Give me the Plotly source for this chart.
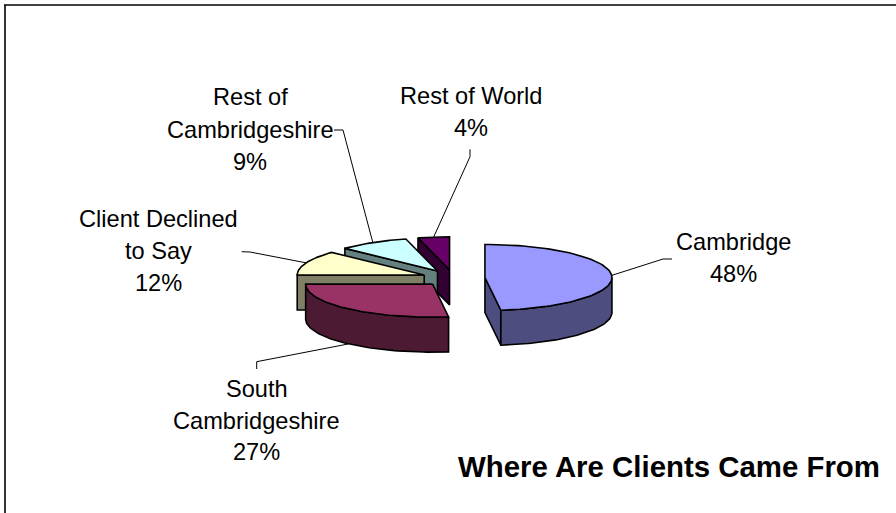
import numpy as np
import plotly.graph_objects as go

categories = ["Cambridge", "South Cambridgeshire", "Client Declined to Say", "Rest of Cambridgeshire", "Rest of World"]
values = [48, 27, 12, 9, 4]
top_colors = ["#9999FF", "#993366", "#FFFFCC", "#CCFFFF", "#660066"]
wall_colors = ["#4D4D80", "#4D1A33", "#808066", "#668080", "#330033"]
label_lines = [["Cambridge", "48%"], ["South", "Cambridgeshire", "27%"], ["Client Declined", "to Say", "12%"],
               ["Rest of", "Cambridgeshire", "9%"], ["Rest of World", "4%"]]
title = "Where Are Clients Came From"

# projection of the exploded pie, in page pixels
CX, CY, RX, RY, DEPTH, EXPLODE = 453.5, 278.0, 127.0, 33.0, 35.0, 31.5
LABEL_POS = [(733, 241.7, 32), (256.7, 389, 31.5), (158.7, 219, 32), (250, 97, 32.5), (471, 95.7, 32.3)]
LEADERS = [[(663, 259), (672, 259)], [(256.7, 361.7), (256.7, 369)], [(250, 252), (241.7, 251.7)],
           [(343, 130), (334, 130)], [(470, 156.7), (470, 149.3)]]
LINE = dict(color="black", width=1.6)
FONT = "Liberation Sans, Arial, sans-serif"

fig = go.Figure()


def poly(xs, ys, color):
    fig.add_trace(go.Scatter(x=list(xs) + [xs[0]], y=list(ys) + [ys[0]], mode="lines", fill="toself",
                             fillcolor=color, line=LINE, hoverinfo="skip", showlegend=False))


total = sum(values)
edges = np.cumsum([0] + values) / total * 2 * np.pi
slices = []
for i in range(len(values)):
    a0, a1 = edges[i], edges[i + 1]
    mid = (a0 + a1) / 2
    cx = CX + EXPLODE * np.sin(mid)
    cy = CY - EXPLODE * RY / RX * np.cos(mid)
    slices.append((i, a0, a1, mid, cx, cy))


def rim(cx, cy, t):
    return cx + RX * np.sin(t), cy - RY * np.cos(t)


# leader lines end on each slice's rim
for i, a0, a1, mid, cx, cy in slices:
    x, y = rim(cx, cy, mid)
    if np.pi / 2 < mid < 3 * np.pi / 2:
        y += DEPTH
    pts = [(x, y)] + LEADERS[i]
    fig.add_trace(go.Scatter(x=[p[0] for p in pts], y=[p[1] for p in pts], mode="lines",
                             line=dict(color="black", width=1), hoverinfo="skip", showlegend=False))

# painter's order, back to front; only the radial faces that face the viewer are drawn
for i, a0, a1, mid, cx, cy in sorted(slices, key=lambda s: -s[0] if s[0] else -99):
    for a, visible in ((a0, np.sin(a0) < -1e-9), (a1, np.sin(a1) > 1e-9)):
        if visible:
            x, y = rim(cx, cy, a)
            poly([cx, x, x, cx], [cy, y, y + DEPTH, cy + DEPTH], wall_colors[i])
    lo, hi = max(a0, np.pi / 2), min(a1, 3 * np.pi / 2)
    if hi > lo:
        t = np.linspace(lo, hi, 60)
        x, y = rim(cx, cy, t)
        poly(np.r_[x, x[::-1]], np.r_[y, y[::-1] + DEPTH], wall_colors[i])
    t = np.linspace(a0, a1, 80)
    x, y = rim(cx, cy, t)
    poly(np.r_[cx, x], np.r_[cy, y], top_colors[i])

for lines, (x, y, step) in zip(label_lines, LABEL_POS):
    for k, line in enumerate(lines):
        fig.add_annotation(x=x, y=y + k * step, text=line, showarrow=False, xanchor="center", yanchor="middle",
                           font=dict(family=FONT, size=23.6, color="black"))
fig.add_annotation(x=668.5, y=466, text=f"<b>{title}</b>", showarrow=False, xanchor="center", yanchor="middle",
                   font=dict(family=FONT, size=29.4, color="black"))

for x0, y0, x1, y1 in [(4, 5, 896, 5), (5, 5, 5, 513)]:
    fig.add_shape(type="line", x0=x0, y0=y0, x1=x1, y1=y1, line=dict(color="black", width=1.6))

fig.update_xaxes(range=[0, 896], visible=False, fixedrange=True)
fig.update_yaxes(range=[513, 0], visible=False, fixedrange=True)
fig.update_layout(width=896, height=513, margin=dict(l=0, r=0, t=0, b=0), paper_bgcolor="white",
                  plot_bgcolor="white", showlegend=False)
fig.write_html("out.html", config=dict(displayModeBar=False),
               post_script="document.body.style.margin='0';document.body.style.overflow='hidden';")
